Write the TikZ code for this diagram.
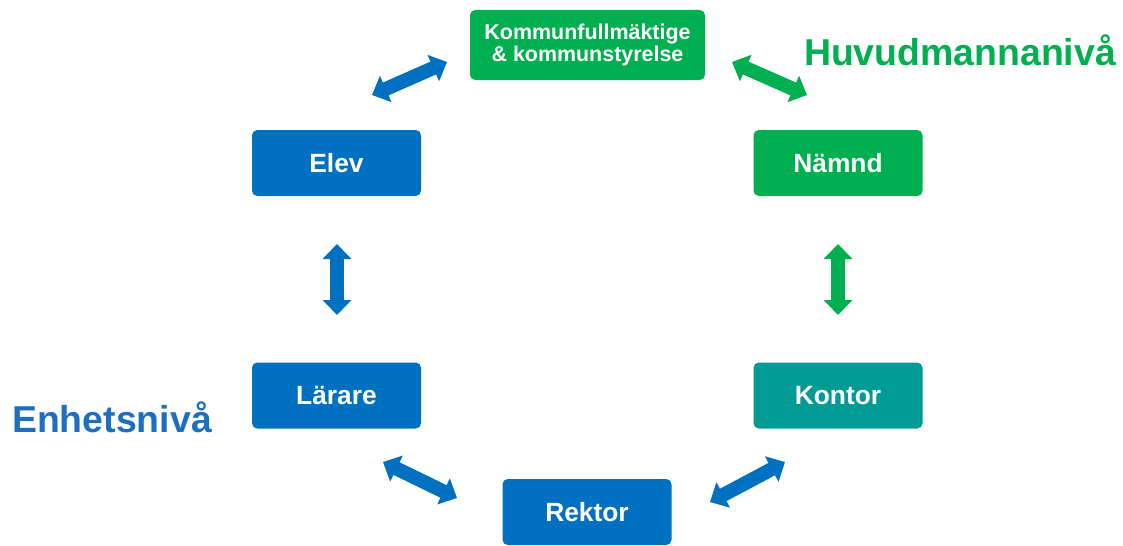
\documentclass[tikz,border=0pt]{standalone}
\usepackage{fontspec}
\setmainfont{Liberation Sans}
\usepackage{tikz}
\usetikzlibrary{arrows.meta}

\definecolor{skolblue}{HTML}{0070C0}
\definecolor{skolgreen}{HTML}{00B050}
\definecolor{skolteal}{HTML}{009B95}
\definecolor{nivablue}{HTML}{1F6FC0}

\tikzset{
  box/.style={rounded corners=3pt,minimum width=3.38cm,minimum height=1.32cm,
    text=white,font=\fontsize{15}{15}\selectfont\bfseries},
  dubbel/.style={line width=0.28cm,{Triangle[length=0.3cm,width=0.56cm]}-{Triangle[length=0.3cm,width=0.56cm]}},
  niva/.style={font=\fontsize{21.3}{21.3}\selectfont\bfseries}
}

\begin{document}
\begin{tikzpicture}
        \useasboundingbox (0,0) rectangle (22.46,10.9);
        \node[box,fill=skolgreen,minimum width=4.7cm,minimum height=1.4cm,align=center,
          font=\fontsize{12.2}{10.8}\selectfont\bfseries] (KF) at (11.75,10.0) {Kommunfullmäktige\\\& kommunstyrelse};
        \node[box,fill=skolblue] (Elev) at ([shift={+(-5.02,-2.36)}]KF) {Elev};
        \node[box,fill=skolgreen] (Namnd) at ([shift={+(5.01,-2.36)}]KF) {Nämnd};
        \node[box,fill=skolblue] (Larare) at ([shift={+(0,-4.65)}]Elev) {Lärare};
        \node[box,fill=skolteal] (Kontor) at ([shift={+(0,-4.65)}]Namnd) {Kontor};
        \node[box,fill=skolblue] (Rektor) at (11.74,0.66) {Rektor};
        \node[niva,text=skolgreen] (Huvud) at (19.2,9.9) {Huvudmannanivå};
        \node[niva,text=nivablue] (Enhet) at (2.24,2.56) {Enhetsnivå};
        % pilarna mellan rutorna
        \coordinate (ElevKF) at (7.44,9.0);
        \coordinate (KFElev) at (8.94,9.66);
        \coordinate (KFNamnd) at (14.64,9.66);
        \coordinate (NamndKF) at (16.14,9.0);
        \coordinate (ElevLar) at (6.74,6.02);
        \coordinate (LarElev) at (6.74,4.6);
        \coordinate (NamndKon) at (16.76,6.02);
        \coordinate (KonNamnd) at (16.76,4.6);
        \coordinate (LarRek) at (7.66,1.66);
        \coordinate (RekLar) at (9.14,0.94);
        \coordinate (RekKon) at (14.2,0.86);
        \coordinate (KonRek) at (15.7,1.66);
        \draw[dubbel,skolblue] (ElevKF)--(KFElev);
        \draw[dubbel,skolgreen] (KFNamnd)--(NamndKF);
        \draw[dubbel,skolblue] (ElevLar)--(LarElev);
        \draw[dubbel,skolgreen] (NamndKon)--(KonNamnd);
        \draw[dubbel,skolblue] (LarRek)--(RekLar);
        \draw[dubbel,skolblue] (RekKon)--(KonRek);
    \end{tikzpicture}
\end{document}
